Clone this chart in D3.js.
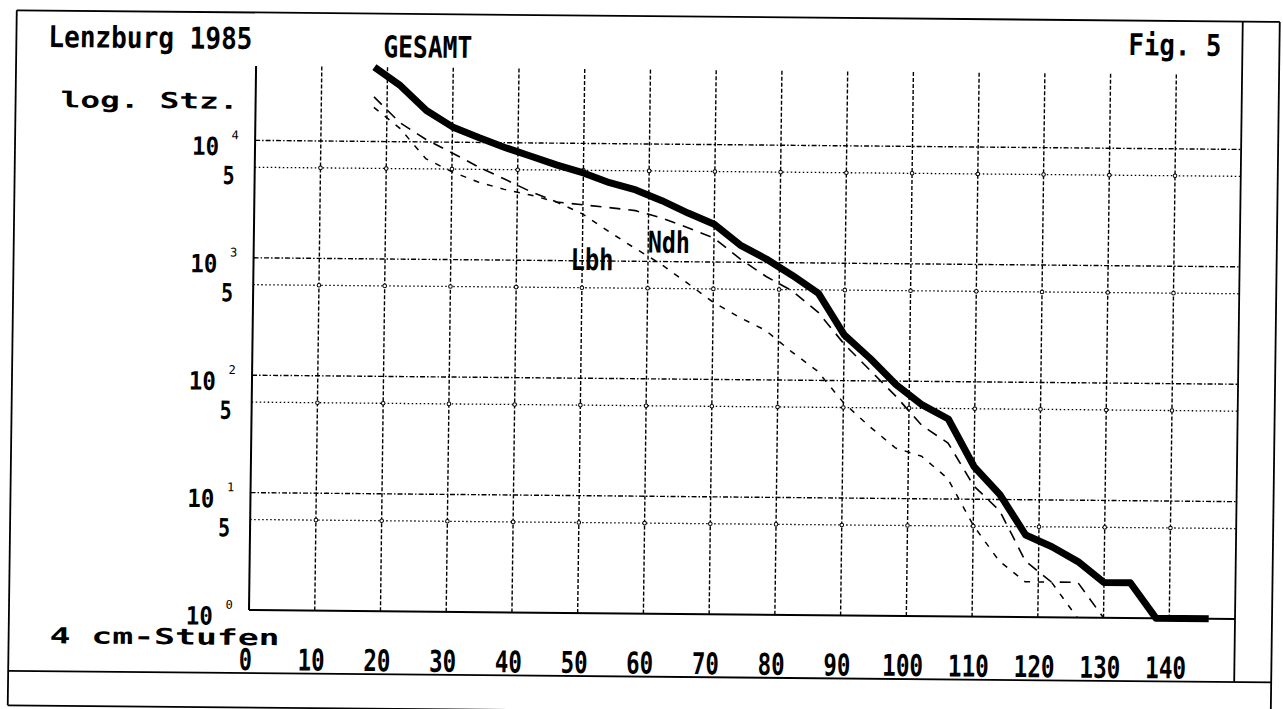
<!DOCTYPE html>
<html>
<head>
<meta charset="utf-8">
<script src="https://cdn.jsdelivr.net/npm/d3@7"></script>
<style>
  body { margin: 0; background: #fff; }
  svg { display: block; }
  text { font-family: "DejaVu Sans Mono", "Liberation Mono", monospace; fill: #000; }
</style>
</head>
<body>
<div id="chart"></div>
<script>
// diameter classes, 4 cm steps (class middle in cm)
var classes = [18, 22, 26, 30, 34, 38, 42, 46, 50, 54, 58, 62, 66, 70, 74, 78, 82,
  86, 90, 94, 98, 102, 106, 110, 114, 118, 122, 126, 130, 134, 138, 142, 146];

// stem counts per class (log scale)
var gesamt = [43000, 30000, 18500, 13500, 11000, 9100, 7700, 6500, 5600, 4650, 4050,
  3300, 2600, 2100, 1400, 1070, 780, 550, 245, 155, 93, 63, 48, 19, 11, 5, 4, 3, 2, 2, 1, 1, 1];
var ndh = [24000, 14500, 10500, 8100, 6200, 4900, 3850, 3150, 3000, 2850, 2700,
  2350, 1950, 1600, 1070, 760, 575, 380, 205, 123, 74, 42, 30, 13, 8, 3, 2, 2, 1,
  null, null, null, null];
var lbh = [19500, 13000, 7200, 5600, 4600, 4000, 3600, 3150, 2500, 1780, 1290,
  950, 660, 455, 340, 265, 175, 120, 65, 41, 27, 23, 15, 6, 3, 2, 2, 1,
  null, null, null, null, null];

// axis ticks
var xTicks = [0, 10, 20, 30, 40, 50, 60, 70, 80, 90, 100, 110, 120, 130, 140];
var decades = [1, 10, 100, 1000, 10000];
var decadeExps = ["0", "1", "2", "3", "4"];
// the rows labelled "5" sit at these values in the original print
var fives = [5.9, 59, 590, 5900];

var W = 1283, H = 709;
var x = d3.scaleLinear().domain([0, 150]).range([249, 1235]);
var y = d3.scaleLog().domain([1, 43000]).range([610, 66]);

var svg = d3.select("#chart").append("svg")
  .attr("width", W)
  .attr("height", H);
svg.append("rect").attr("width", W).attr("height", H).attr("fill", "#fff");

// the scanned sheet is slightly skewed, so everything goes into a sheared group
var ka = 0.013, kb = 0.0092;
var g = svg.append("g")
  .attr("transform", "matrix(1," + kb + "," + (-ka) + ",1," + (ka * 610) + "," + (-kb * 249) + ")");

function hline(x1, x2, yy, w) {
  g.append("line").attr("x1", x1).attr("x2", x2).attr("y1", yy).attr("y2", yy)
    .attr("stroke", "#000").attr("stroke-width", w || 1.8);
}
function vline(xx, y1, y2, w) {
  g.append("line").attr("x1", xx).attr("x2", xx).attr("y1", y1).attr("y2", y2)
    .attr("stroke", "#000").attr("stroke-width", w || 1.8);
}

// text helper, squeezed to the measured width
function label(txt, tx, ty, size, width, anchor, weight) {
  var t = g.append("text")
    .attr("x", tx).attr("y", ty)
    .attr("font-size", size)
    .attr("font-weight", weight || "bold")
    .attr("text-anchor", anchor || "start")
    .text(txt);
  if (width) t.attr("textLength", width).attr("lengthAdjust", "spacingAndGlyphs");
  return t;
}

// frame of the sheet
hline(9, 1272, 12.5);
hline(9, 1272, 673);
hline(9, 1272, 707.5);
vline(9, 12.5, 707.5);
vline(1272, 12.5, 707.5);
vline(x(150), 12.5, 673);

// vertical grid (dashed)
g.selectAll(".vgrid")
  .data(xTicks.filter(function (d) { return d > 0; }))
  .enter().append("line")
  .attr("class", "vgrid")
  .attr("x1", function (d) { return x(d); })
  .attr("x2", function (d) { return x(d); })
  .attr("y1", y.range()[1])
  .attr("y2", y.range()[0])
  .attr("stroke", "#000")
  .attr("stroke-width", 1.4)
  .attr("stroke-dasharray", "4,2");

// decade lines (dash-dot)
g.selectAll(".dgrid")
  .data(decades.filter(function (d) { return d > 1; }))
  .enter().append("line")
  .attr("class", "dgrid")
  .attr("x1", x(0)).attr("x2", x(150))
  .attr("y1", function (d) { return y(d); })
  .attr("y2", function (d) { return y(d); })
  .attr("stroke", "#000")
  .attr("stroke-width", 1.4)
  .attr("stroke-dasharray", "5,2,1.5,2");

// "5" lines (dotted)
g.selectAll(".fgrid")
  .data(fives)
  .enter().append("line")
  .attr("class", "fgrid")
  .attr("x1", x(0)).attr("x2", x(150))
  .attr("y1", function (d) { return y(d); })
  .attr("y2", function (d) { return y(d); })
  .attr("stroke", "#000")
  .attr("stroke-width", 1.3)
  .attr("stroke-dasharray", "1.5,2.5");

// little rings where the dotted rows cross the grid
var rings = [];
fives.forEach(function (f) {
  xTicks.forEach(function (t) { if (t > 0) rings.push([t, f]); });
});
g.selectAll(".ring")
  .data(rings)
  .enter().append("circle")
  .attr("class", "ring")
  .attr("cx", function (d) { return x(d[0]); })
  .attr("cy", function (d) { return y(d[1]); })
  .attr("r", 1.8)
  .attr("fill", "#fff")
  .attr("stroke", "#000")
  .attr("stroke-width", 1);

// axes
vline(x(0), y.range()[1], y.range()[0], 2);
hline(x(0), x(150), y(1), 2);

// y labels: 10 with exponent, and the "5" rows
decades.forEach(function (d, i) {
  label("10", 213, y(d) + 15, 25, 27, "end");
  label(decadeExps[i], 229, y(d) - 1, 12, null, "middle", "normal");
});
fives.forEach(function (d) {
  label("5", 229, y(d) + 17, 25, 12, "end");
});

// x labels
xTicks.forEach(function (t) {
  var s = String(t);
  label(s, x(t) - 3, 670, 30, 14 * s.length - 1, "middle");
});

// titles and captions
label("Lenzburg 1985", 41, 49, 30, 204);
label("GESAMT", 376, 56, 30, 89);
label("Fig. 5", 1121, 47, 30, 93);
label("log. Stz.", 54, 109, 22, 178);
label("4 cm-Stufen", 50, 645, 22, 230);
label("Ndh", 643, 249, 30, 42);
label("Lbh", 566, 267, 30, 43);

// curves
var line = function (vals) {
  return d3.line()
    .defined(function (d, i) { return vals[i] != null; })
    .x(function (d, i) { return x(classes[i]); })
    .y(function (d, i) { return y(vals[i]); })(classes);
};

g.append("path")
  .attr("d", line(lbh))
  .attr("fill", "none")
  .attr("stroke", "#000")
  .attr("stroke-width", 1.5)
  .attr("stroke-dasharray", "6,8");

g.append("path")
  .attr("d", line(ndh))
  .attr("fill", "none")
  .attr("stroke", "#000")
  .attr("stroke-width", 1.6)
  .attr("stroke-dasharray", "11,8");

g.append("path")
  .attr("d", line(gesamt))
  .attr("fill", "none")
  .attr("stroke", "#000")
  .attr("stroke-width", 7)
  .attr("stroke-linejoin", "round");
</script>
</body>
</html>
